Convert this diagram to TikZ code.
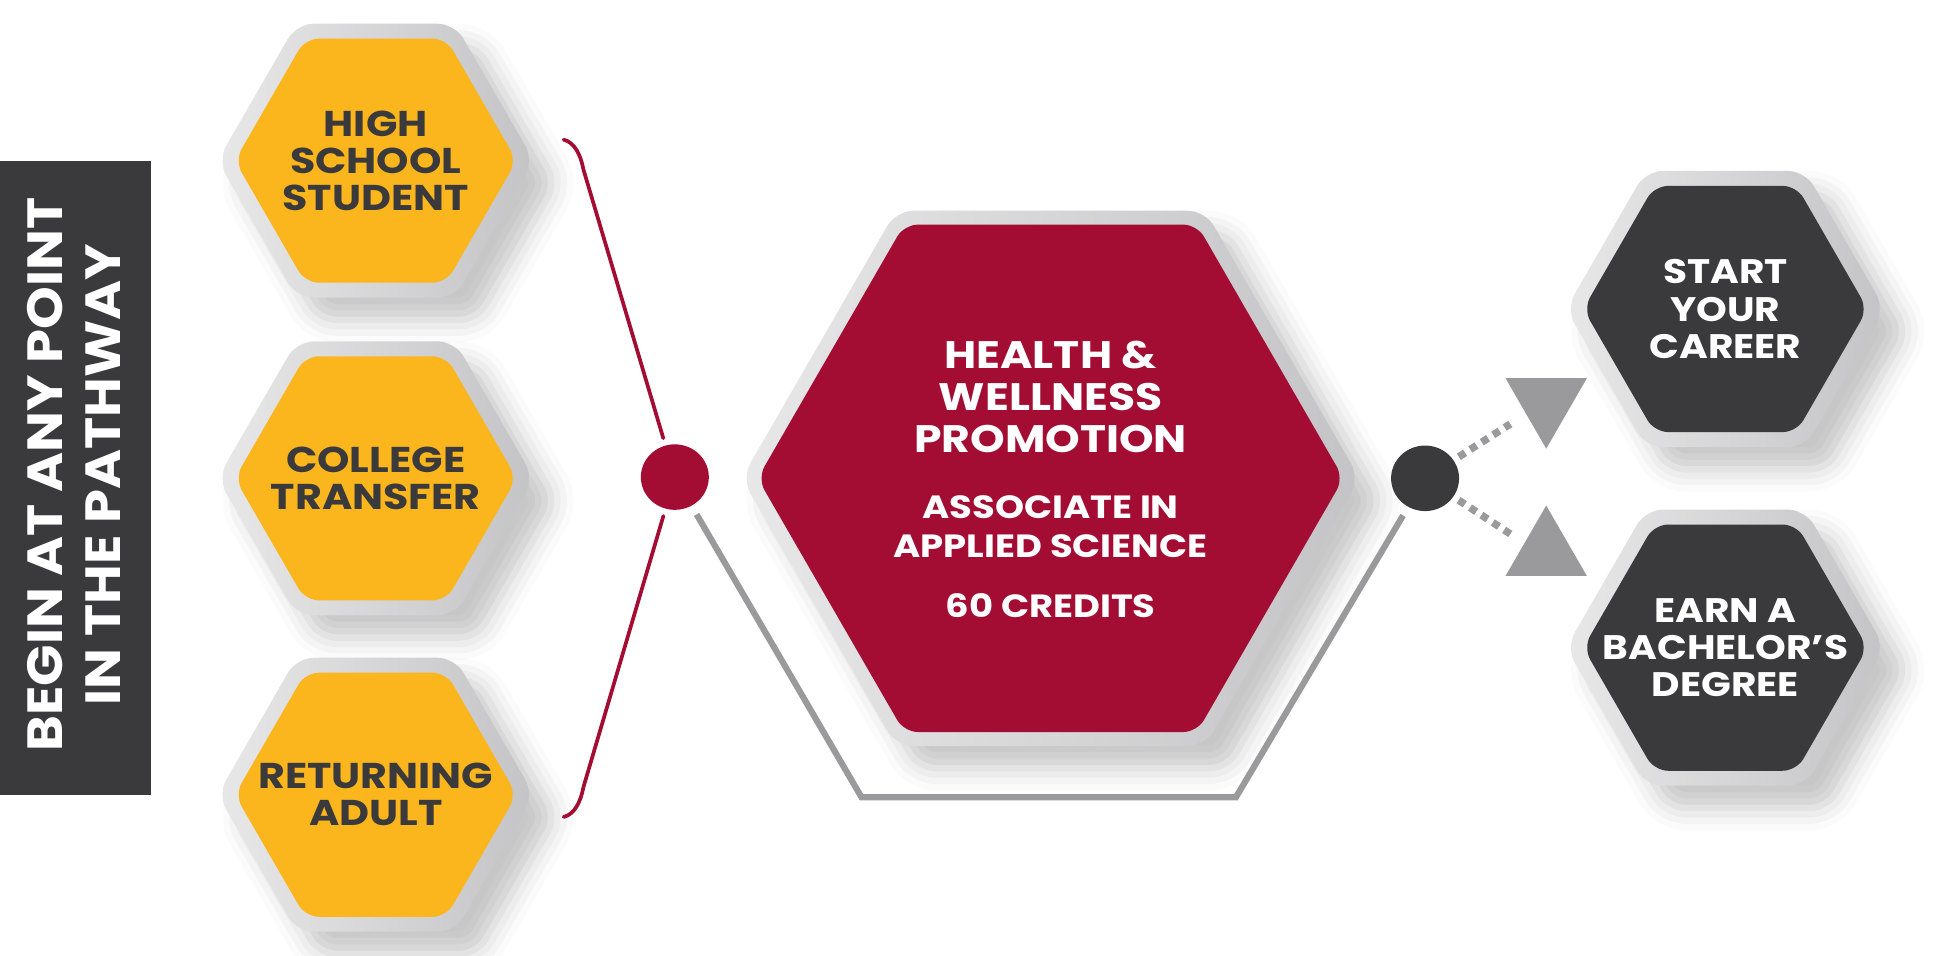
\documentclass[tikz,border=0pt]{standalone}
\usepackage{fontspec}
\setmainfont{Poppins}
\newfontfamily\widefont{Poppins}[FakeStretch=1.15]
\newfontfamily\bannerfont{Poppins}[FakeStretch=1.1]
\usetikzlibrary{shapes.geometric,shadows.blur}
\definecolor{hxyellow}{HTML}{FBB51D}
\definecolor{hxred}{HTML}{A30D33}
\definecolor{hxdark}{HTML}{3A3A3C}
\definecolor{hxline}{HTML}{9A9A9C}
\definecolor{hxlight}{HTML}{E8E8E9}
\definecolor{hxmid}{HTML}{C4C4C6}
\begin{document}
\begin{tikzpicture}[x=1pt,y=-1pt,
  hexbase/.style={regular polygon, regular polygon sides=6, inner sep=0pt, outer sep=0pt},
  hexouter/.style={hexbase, minimum size=#1, rounded corners=14pt, left color=hxlight, right color=hxmid,
     blur shadow={shadow xshift=18pt, shadow yshift=-18pt, shadow blur radius=18pt, shadow opacity=22}},
  hexinner/.style={hexbase, minimum size=#1, rounded corners=11pt},
  ylab/.style={text=hxdark, font=\widefont\bfseries\fontsize{29}{30}\selectfont, align=center, inner sep=0pt},
  dlab/.style={text=white, font=\widefont\bfseries\fontsize{27.5}{30}\selectfont, align=center, inner sep=0pt},
  redline/.style={draw=hxred, line width=3pt, line cap=round},
  grayline/.style={draw=hxline, line width=5pt},
  dashline/.style={draw=hxline, line width=6pt, dash pattern=on 6pt off 5pt},
  dotnode/.style={ellipse, minimum width=55pt, minimum height=53pt, inner sep=0pt},
  arrowtri/.style={regular polygon, regular polygon sides=3, minimum size=76pt, inner sep=0pt, fill=hxline}
]
\useasboundingbox (0,0) rectangle (1568,773);

% banner
\fill[hxdark] (0,130) rectangle (122,643);
\node[rotate=90, text=white, font=\bannerfont\bfseries\fontsize{40}{47}\selectfont, align=center, inner sep=0pt]
  (banner) at (60,384) {BEGIN AT ANY POINT\\IN THE PATHWAY};

% yellow hexagons
\foreach \nm/\yy in {hs/130, ct/387, ra/643}{
  \node[hexouter=256pt] (\nm) at (304,\yy) {};
  \node[hexinner=228pt, fill=hxyellow] at (\nm) {};
}
\node[ylab] (hsT) at (hs) {HIGH\\SCHOOL\\STUDENT};
\node[ylab] (ctT) at (ct) {COLLEGE\\TRANSFER};
\node[ylab] (raT) at (ra) {RETURNING\\ADULT};

% central red hexagon
\node[hexouter=500pt] (hw) at (850,387) {};
\node[hexinner=474pt, fill=hxred] at (hw) {};
\node[text=white, font=\widefont\bfseries\fontsize{31}{34}\selectfont, align=center, inner sep=0pt]
  (hwT) at (850,321) {HEALTH \&\\WELLNESS\\PROMOTION};
\node[text=white, font=\widefont\bfseries\fontsize{26}{32}\selectfont, align=center, inner sep=0pt]
  (hwS) at (850,426) {ASSOCIATE IN\\APPLIED SCIENCE};
\node[text=white, font=\widefont\bfseries\fontsize{26}{32}\selectfont, inner sep=0pt]
  (hwC) at (850,490) {60 CREDITS};

% dark hexagons
\foreach \nm/\yy in {sc/250, eb/524}{
  \node[hexouter=258pt] (\nm) at (1396,\yy) {};
  \node[hexinner=230pt, fill=hxdark] at (\nm) {};
}
\node[dlab] (scT) at (sc) {START\\YOUR\\CAREER};
\node[dlab] (ebT) at (eb) {EARN A\\BACHELOR’S\\DEGREE};

% dots
\node[dotnode, fill=hxred] (rdot) at (546,386) {};
\node[dotnode, fill=hxdark] (ddot) at (1153,387) {};

% red bracket
\coordinate (b1) at (456,113);
\coordinate (b2) at (472,137);
\coordinate (b3) at (456,661);
\coordinate (b4) at (472,637);
\draw[redline, shorten >=6pt] (b1) .. controls (465,115) and (470,126) .. (b2) -- (rdot);
\draw[redline, shorten >=6pt] (b3) .. controls (465,659) and (470,648) .. (b4) -- (rdot);

% gray path under the centre
\coordinate (g1) at (697,645);
\coordinate (g2) at (1000,645);
\draw[grayline, shorten <=8pt, shorten >=8pt] (rdot) -- (g1) -- (g2) -- (ddot);

% dashed branches and arrowheads
\coordinate (d1) at (1222,343);
\coordinate (d2) at (1222,432);
\draw[dashline, shorten <=5pt] (ddot) -- (d1);
\draw[dashline, shorten <=5pt] (ddot) -- (d2);
\node[arrowtri, shape border rotate=180] (arrA) at (1251,325) {};
\node[arrowtri] (arrB) at (1251,447) {};
\end{tikzpicture}
\end{document}
